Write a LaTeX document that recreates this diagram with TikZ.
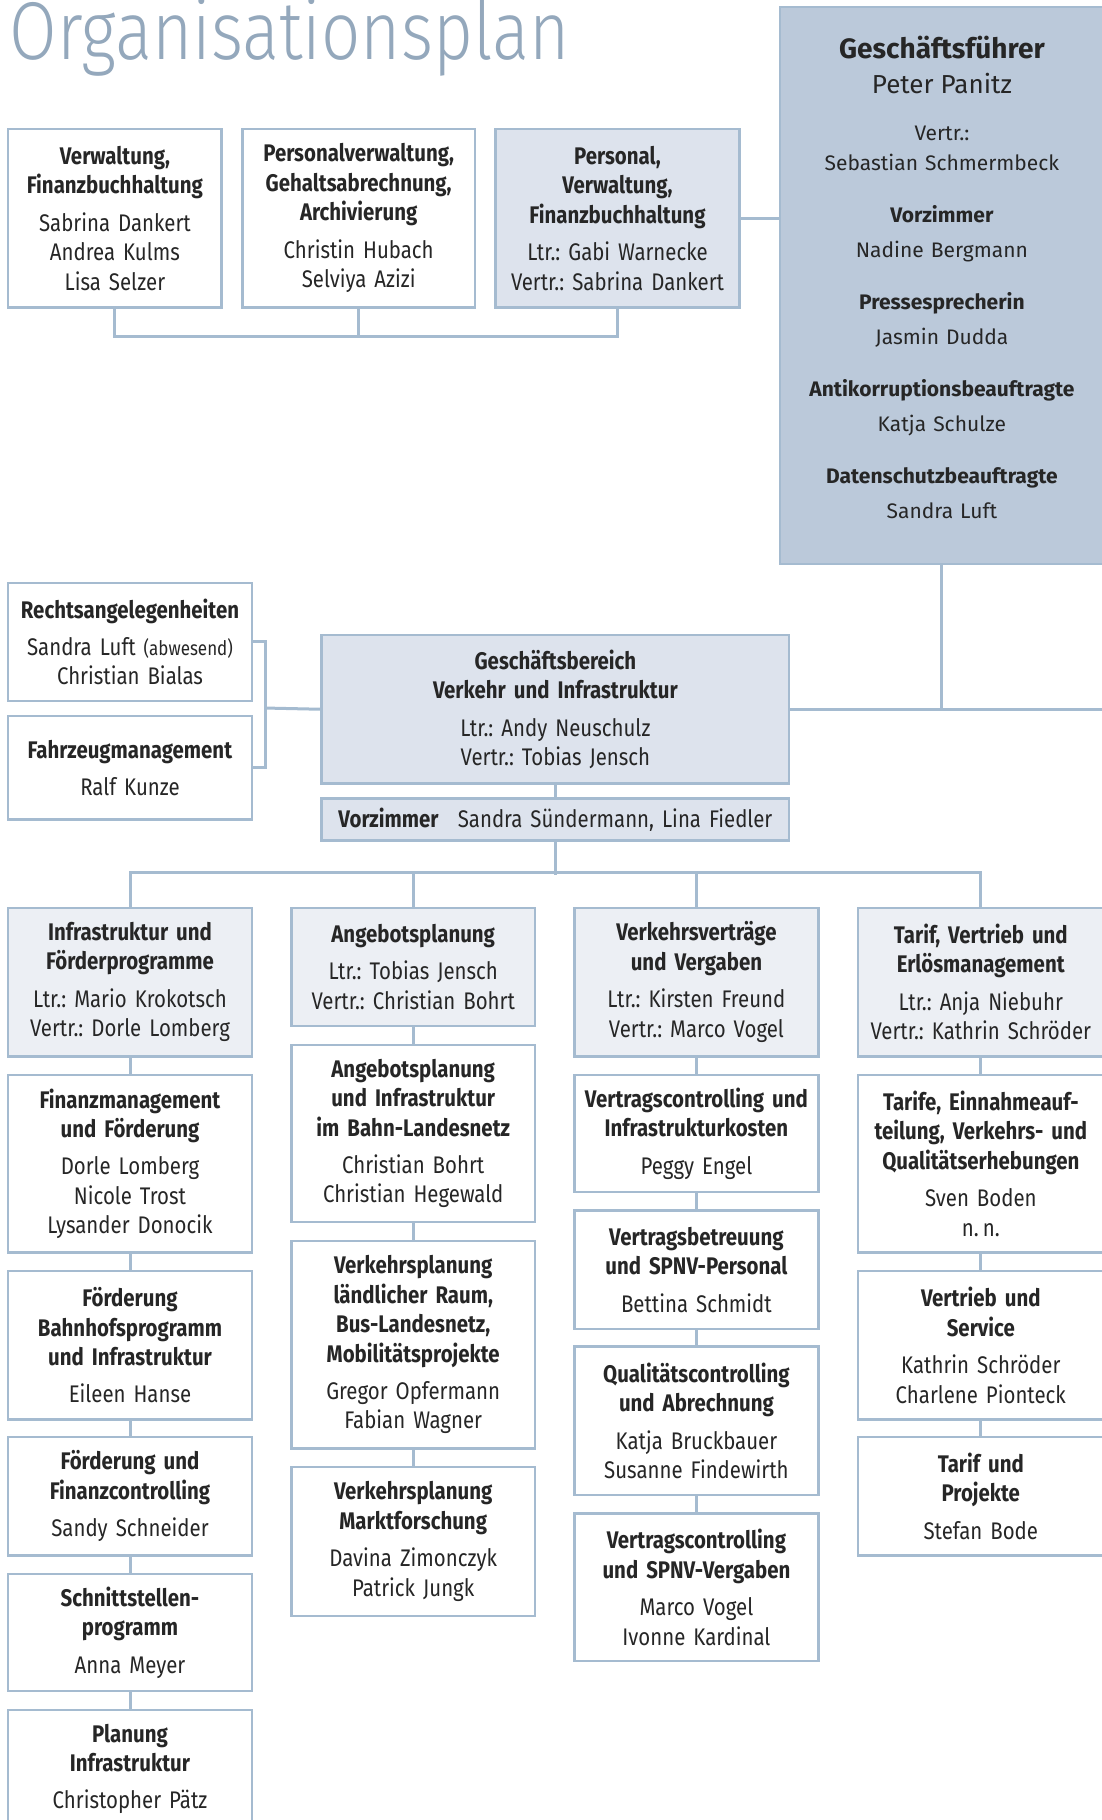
\documentclass[tikz,border=0pt]{standalone}
\usepackage{fontspec}
\setmainfont{Fira Sans}
\newfontfamily\condfont{Fira Sans}[FakeStretch=0.85]
\newfontfamily\titlefont{Fira Sans Light}[FakeStretch=0.84]
\usetikzlibrary{positioning}
\frenchspacing

\definecolor{orgline}{HTML}{A5BBD0}
\definecolor{orgpale}{HTML}{DDE3ED}
\definecolor{orghead}{HTML}{ECEFF4}
\definecolor{orgchief}{HTML}{BBC9DA}
\definecolor{orgtitle}{HTML}{94A8BC}
\definecolor{orgtext}{HTML}{262626}

\tikzset{
  unit/.style={draw=orgline, line width=1.2pt, fill=white, text=orgtext,
    align=center, inner sep=0pt, anchor=north,
    font=\condfont\fontsize{12}{14.7}\selectfont},
  sized/.style 2 args={minimum width=#1*0.58pt, minimum height=#2*0.58pt,
    text width=#1*0.58pt-3pt},
  lead/.style={unit, fill=orgpale},
  colhead/.style={unit, fill=orghead},
  link/.style={draw=orgline, line width=1.5pt},
}

\begin{document}
\begin{tikzpicture}[x=0.58pt, y=-0.58pt]
\useasboundingbox (0,0) rectangle (949,1568);

% Title
\node[anchor=base west, inner sep=0pt, text=orgtitle,
  font=\titlefont\fontsize{41}{41}\selectfont] (title) at (8,51) {Organisationsplan};

% Stabsstellen oben
\node[unit, sized={184}{154}] (verw) at (99,110)
  {\textbf{Verwaltung,}\\\textbf{Finanzbuchhaltung}\\[4pt]Sabrina Dankert\\Andrea Kulms\\Lisa Selzer};
\node[unit, sized={200}{154}] (pers) at (309,110)
  {\textbf{Personalverwaltung,}\\\textbf{Gehaltsabrechnung,}\\\textbf{Archivierung}\\[4pt]Christin Hubach\\Selviya Azizi};
\node[lead, sized={210}{154}] (pvf) at (532,110)
  {\textbf{Personal,}\\\textbf{Verwaltung,}\\\textbf{Finanzbuchhaltung}\\[4pt]Ltr.: Gabi Warnecke\\Vertr.: Sabrina Dankert};

% Geschaeftsfuehrung
\node[unit, fill=orgchief, sized={279}{480}, font=\fontsize{10.5}{17.4}\selectfont] (gf) at (811.5,5)
  {{\fontsize{14}{17.4}\selectfont\bfseries Geschäftsführer}\\
   {\fontsize{13}{17.4}\selectfont Peter Panitz}\\[6pt]
   Vertr.:\\[-2.4pt]Sebastian Schmermbeck\\[8.7pt]
   \textbf{Vorzimmer}\\Nadine Bergmann\\[8.7pt]
   \textbf{Pressesprecherin}\\Jasmin Dudda\\[8.7pt]
   \textbf{Antikorruptionsbeauftragte}\\Katja Schulze\\[8.7pt]
   \textbf{Datenschutzbeauftragte}\\Sandra Luft\\[-9.4pt]\mbox{}};

% Geschaeftsbereich
\node[lead, sized={403}{128}] (gb) at (478.5,546)
  {\textbf{Geschäftsbereich}\\\textbf{Verkehr und Infrastruktur}\\[4pt]Ltr.: Andy Neuschulz\\Vertr.: Tobias Jensch};
\node[lead, sized={403}{36}] (vz) at (478.5,687)
  {\textbf{Vorzimmer}\hspace{0.8em}Sandra Sündermann, Lina Fiedler};

\node[unit, sized={210}{102}] (recht) at (112,501)
  {\textbf{Rechtsangelegenheiten}\\[4pt]Sandra Luft {\fontsize{10}{14.7}\selectfont(abwesend)}\\Christian Bialas};
\node[unit, sized={210}{89}] (fahrz) at (112,616)
  {\textbf{Fahrzeugmanagement}\\[4pt]Ralf Kunze};

% Spalte 1
\node[colhead, sized={210}{128}] (c1a) at (112,781)
  {\textbf{Infrastruktur und}\\\textbf{Förderprogramme}\\[4pt]Ltr.: Mario Krokotsch\\Vertr.: Dorle Lomberg};
\node[unit, sized={210}{153}] (c1b) at (112,925)
  {\textbf{Finanzmanagement}\\\textbf{und Förderung}\\[4pt]Dorle Lomberg\\Nicole Trost\\Lysander Donocik};
\node[unit, sized={210}{128}] (c1c) at (112,1094)
  {\textbf{Förderung}\\\textbf{Bahnhofsprogramm}\\\textbf{und Infrastruktur}\\[4pt]Eileen Hanse};
\node[unit, sized={210}{102}] (c1d) at (112,1237)
  {\textbf{Förderung und}\\\textbf{Finanzcontrolling}\\[4pt]Sandy Schneider};
\node[unit, sized={210}{101}] (c1e) at (112,1355)
  {\textbf{Schnittstellen-}\\\textbf{programm}\\[4pt]Anna Meyer};
\node[unit, sized={210}{102}] (c1f) at (112,1472)
  {\textbf{Planung}\\\textbf{Infrastruktur}\\[4pt]Christopher Pätz};

% Spalte 2
\node[colhead, sized={210}{102}] (c2a) at (356,781)
  {\textbf{Angebotsplanung}\\[4pt]Ltr.: Tobias Jensch\\Vertr.: Christian Bohrt};
\node[unit, sized={210}{153}] (c2b) at (356,899)
  {\textbf{Angebotsplanung}\\\textbf{und Infrastruktur}\\\textbf{im Bahn-Landesnetz}\\[4pt]Christian Bohrt\\Christian Hegewald};
\node[unit, sized={210}{179}] (c2c) at (356,1068)
  {\textbf{Verkehrsplanung}\\\textbf{ländlicher Raum,}\\\textbf{Bus-Landesnetz,}\\\textbf{Mobilitätsprojekte}\\[4pt]Gregor Opfermann\\Fabian Wagner};
\node[unit, sized={210}{128}] (c2d) at (356,1263)
  {\textbf{Verkehrsplanung}\\\textbf{Marktforschung}\\[4pt]Davina Zimonczyk\\Patrick Jungk};

% Spalte 3
\node[colhead, sized={210}{128}] (c3a) at (600,781)
  {\textbf{Verkehrsverträge}\\\textbf{und Vergaben}\\[4pt]Ltr.: Kirsten Freund\\Vertr.: Marco Vogel};
\node[unit, sized={210}{101}] (c3b) at (600,925)
  {\textbf{Vertragscontrolling und}\\\textbf{Infrastrukturkosten}\\[4pt]Peggy Engel};
\node[unit, sized={210}{102}] (c3c) at (600,1042)
  {\textbf{Vertragsbetreuung}\\\textbf{und SPNV-Personal}\\[4pt]Bettina Schmidt};
\node[unit, sized={210}{128}] (c3d) at (600,1159)
  {\textbf{Qualitätscontrolling}\\\textbf{und Abrechnung}\\[4pt]Katja Bruckbauer\\Susanne Findewirth};
\node[unit, sized={210}{127}] (c3e) at (600,1303)
  {\textbf{Vertragscontrolling}\\\textbf{und SPNV-Vergaben}\\[4pt]Marco Vogel\\Ivonne Kardinal};

% Spalte 4
\node[colhead, sized={212}{128}] (c4a) at (845,781)
  {\textbf{Tarif, Vertrieb und}\\\textbf{Erlösmanagement}\\[4pt]Ltr.: Anja Niebuhr\\Vertr.: Kathrin Schröder};
\node[unit, sized={212}{153}] (c4b) at (845,925)
  {\textbf{Tarife, Einnahmeauf-}\\\textbf{teilung, Verkehrs- und}\\\textbf{Qualitätserhebungen}\\[4pt]Sven Boden\\n.\,n.};
\node[unit, sized={212}{128}] (c4c) at (845,1094)
  {\textbf{Vertrieb und}\\\textbf{Service}\\[4pt]Kathrin Schröder\\Charlene Pionteck};
\node[unit, sized={212}{102}] (c4d) at (845,1237)
  {\textbf{Tarif und}\\\textbf{Projekte}\\[4pt]Stefan Bode};

% Verbindungen
\coordinate (rand) at (951,610);
\coordinate (klammer) at (229,610);
\draw[link] (verw.south) -- ++(0,24) -| (pvf.south);
\draw[link] (pers.south) -- ++(0,24);
\draw[link] (pvf.east) -- (pvf.east -| gf.west);
\draw[link] (gf.south) |- (gb.east);
\draw[link] (gb.east) -- (gb.east -| rand);
\draw[link] (recht.east) -| (klammer) |- (fahrz.east);
\draw[link] (klammer) -- (gb.west);
\draw[link] (gb.south) -- (vz.north);
\draw[link] (vz.south) -- ++(0,29);
\draw[link] (c1a.north) -- ++(0,-29) -| (c4a.north);
\draw[link] (c2a.north) -- ++(0,-29);
\draw[link] (c3a.north) -- ++(0,-29);
\foreach \oben/\unten in {c1a/c1b, c1b/c1c, c1c/c1d, c1d/c1e, c1e/c1f,
  c2a/c2b, c2b/c2c, c2c/c2d, c3a/c3b, c3b/c3c, c3c/c3d, c3d/c3e,
  c4a/c4b, c4b/c4c, c4c/c4d}
  \draw[link] (\oben.south) -- (\unten.north);
\end{tikzpicture}
\end{document}
